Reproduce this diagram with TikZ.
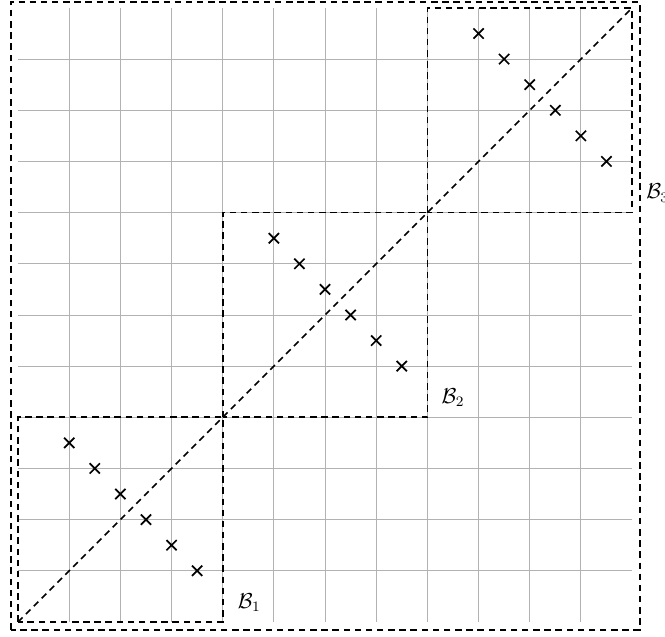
\documentclass[tikz,border=0pt]{standalone}
\begin{document}
\begin{tikzpicture}[x=1cm,y=1cm,
  gridline/.style={gray!60,line width=0.45pt},
  frame/.style={dash pattern=on 3.6pt off 2.6pt,line width=0.95pt,black},
  xmark/.style={line width=0.95pt,black},
  blabel/.style={inner sep=0pt,font=\large}]
\useasboundingbox (-0.352,-0.293) rectangle (12.644,12.155);
% grid (interior lines only)
\foreach \i in {1,...,11}{
  \draw[gridline] (\i,0) -- (\i,12);
  \draw[gridline] (0,\i) -- (12,\i);
}
% outer frame
\draw[frame] (-0.14,-0.15) rectangle (12.15,12.12);
% diagonal
\coordinate (O) at (0,0);
\coordinate (E) at (12,12);
\draw[frame] (O) -- (E);
% blocks
\coordinate (b1a) at (0,0); \coordinate (b1b) at (4,4);
\coordinate (b2a) at (4,4); \coordinate (b2b) at (8,8);
\coordinate (b3a) at (8,8); \coordinate (b3b) at (12,12);
\draw[frame] (b1a) rectangle (b1b);
\draw[frame] (b2a) rectangle (b2b);
\draw[frame] (b3a) rectangle (b3b);
\node[blabel] (L1) at ([shift={(0.52,0.38)}]4,0) {$\mathcal{B}_1$};
\node[blabel] (L2) at ([shift={(0.5,0.38)}]8,4) {$\mathcal{B}_2$};
\node[blabel] (L3) at ([shift={(0.5,0.38)}]12,8) {$\mathcal{B}_3$};
% crosses
\foreach \bx/\by in {0/0,4/4,8/8}{
  \foreach \k in {0,...,5}{
    \pgfmathsetmacro{\cx}{\bx+1+0.5*\k}
    \pgfmathsetmacro{\cy}{\by+3.5-0.5*\k}
    \draw[xmark] (\cx-0.1,\cy-0.1) -- (\cx+0.1,\cy+0.1)
                 (\cx-0.1,\cy+0.1) -- (\cx+0.1,\cy-0.1);
  }
}
\end{tikzpicture}
\end{document}
